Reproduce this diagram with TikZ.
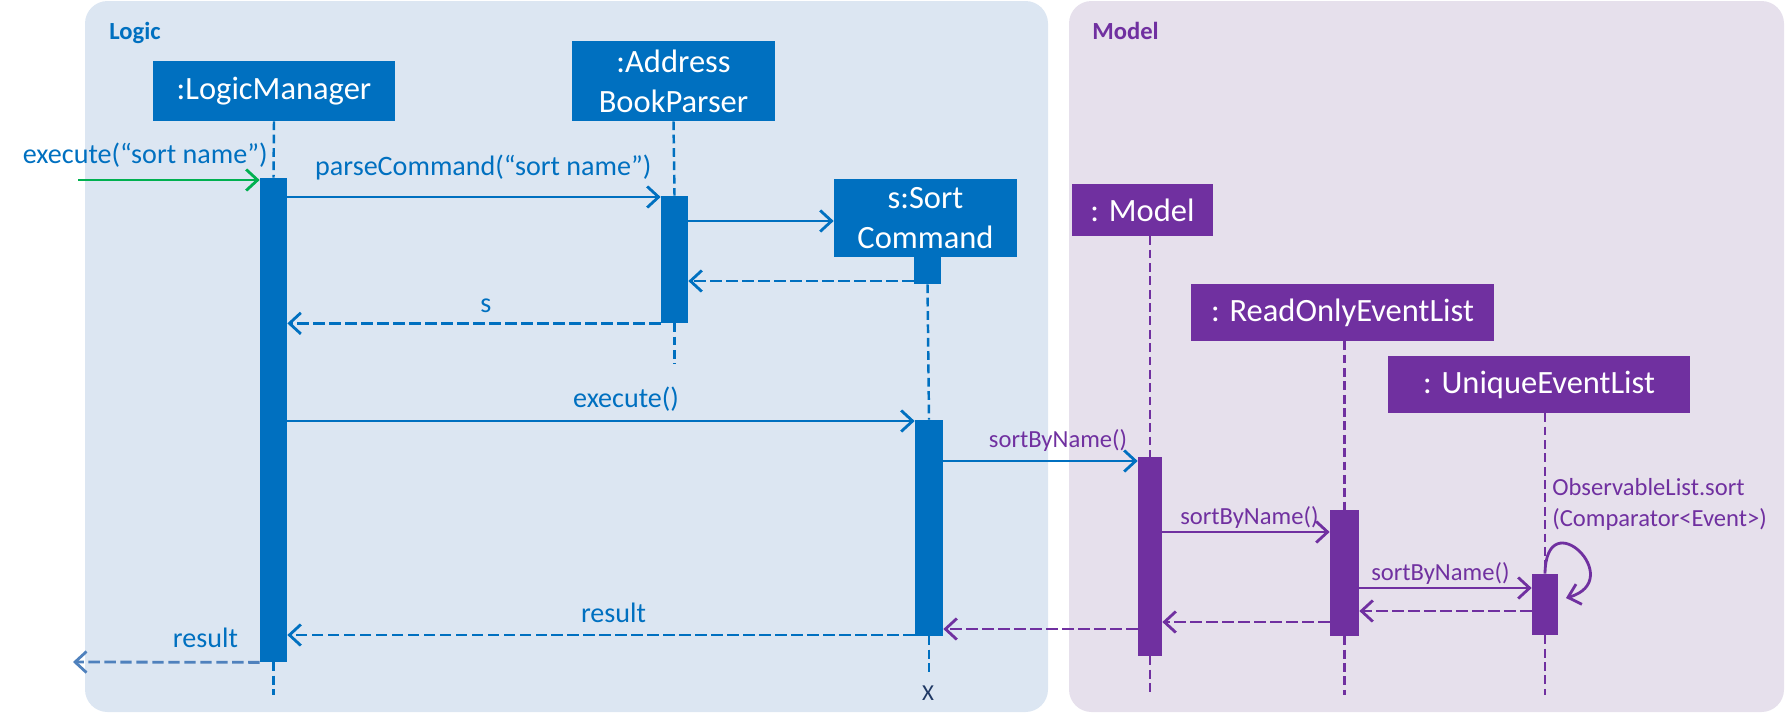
\documentclass[tikz,border=0pt]{standalone}
\usepackage{fontspec}
\setmainfont{Carlito}
\usepackage{tikz}
\usetikzlibrary{arrows.meta,fit}
\definecolor{logicblue}{HTML}{0070C0}
\definecolor{modelpurple}{HTML}{7030A0}
\definecolor{logicbg}{HTML}{DCE6F2}
\definecolor{modelbg}{HTML}{E6E0EC}
\definecolor{callgreen}{HTML}{00B050}
\definecolor{outblue}{HTML}{4F81BD}
\definecolor{endmark}{HTML}{1F3864}
\tikzset{
  title/.style={text=#1, font=\bfseries\fontsize{14}{17}\selectfont, anchor=base west, inner sep=0pt},
  obj/.style={fill=#1, text=white, inner sep=0pt, align=center, font=\fontsize{18.5}{22.7}\selectfont},
  bar/.style={fill=#1, inner sep=0pt},
  life/.style={draw=#1, line width=1.4pt, dash pattern=on 5pt off 2.6pt},
  call/.style={draw=#1, line width=1.6pt, -{Straight Barb[length=6.5pt,width=12pt,line width=1.6pt]}},
  ret/.style={call=#1, dash pattern=on 6.5pt off 2.6pt},
  msg/.style={text=#1, font=\fontsize{16}{19}\selectfont, anchor=base, inner sep=0pt},
  note/.style={text=#1, font=\fontsize{14}{17.6}\selectfont, anchor=base, inner sep=0pt}
}
\begin{document}
\begin{tikzpicture}[x=0.02cm, y=-0.02cm]
\useasboundingbox (0,0) rectangle (1785,721);
\path[fill=logicbg, rounded corners=0.45cm] (85,1) rectangle (1048,712);
\path[fill=modelbg, rounded corners=0.45cm] (1069,1) rectangle (1784,712);
\node[title=logicblue] (logictitle) at (109,39) {Logic};
\node[title=modelpurple] (modeltitle) at (1092,39) {Model};

\node[obj=logicblue, minimum width=4.84cm, minimum height=1.2cm] (lm) at (274,91) {:LogicManager};
\node[obj=logicblue, minimum width=4.06cm, minimum height=1.6cm] (abp) at (673.5,81) {:Address\\BookParser};
\node[obj=logicblue, minimum width=3.66cm, minimum height=1.56cm] (sc) at (925.5,218) {s:Sort\\Command};
\node[obj=modelpurple, minimum width=2.82cm, minimum height=1.04cm] (mdl) at (1142.5,210) {: Model};
\node[obj=modelpurple, minimum width=6.06cm, minimum height=1.14cm] (rol) at (1342.5,312.5) {: ReadOnlyEventList};
\node[obj=modelpurple, minimum width=6.04cm, minimum height=1.14cm] (uel) at (1539,384.5) {: UniqueEventList};

\node[bar=logicblue, fit={(260,178) (287,662)}] (lmbar) {};
\node[bar=logicblue, fit={(661,196) (688,323)}] (abpbar) {};
\node[bar=logicblue, fit={(914,257) (941,284)}] (scblk) {};
\node[bar=logicblue, fit={(915,420) (943,636)}] (scbar) {};
\node[bar=modelpurple, fit={(1138,457) (1162,656)}] (mdlbar) {};
\node[bar=modelpurple, fit={(1330,510) (1359,636)}] (rolbar) {};
\node[bar=modelpurple, fit={(1532,574) (1558,635)}] (uelbar) {};

\coordinate (bottom) at (0,695);
\draw[life=logicblue] (lm.south) -- (lmbar.north);
\draw[life=logicblue] (lmbar.south) -- (lmbar.south |- bottom);
\draw[life=logicblue] (abp.south) -- (abpbar.north);
\draw[life=logicblue] (abpbar.south) -- (abpbar.south |- 0,364);
\draw[life=logicblue] (scblk.south) -- (scbar.north);
\draw[life=logicblue] (scbar.south) -- (scbar.south |- 0,672);
\node[text=endmark, font=\fontsize{13}{15}\selectfont, inner sep=0pt] (endx) at (928,693) {X};
\draw[life=modelpurple] (mdlbar.north |- mdl.south) -- (mdlbar.north);
\draw[life=modelpurple] (mdlbar.south) -- (mdlbar.south |- bottom);
\draw[life=modelpurple] (rolbar.north |- rol.south) -- (rolbar.north);
\draw[life=modelpurple] (rolbar.south) -- (rolbar.south |- bottom);
\draw[life=modelpurple] (uelbar.north |- uel.south) -- (uelbar.north);
\draw[life=modelpurple] (uelbar.south) -- (uelbar.south |- bottom);

\coordinate (entry) at (78,180);
\coordinate (exit) at (73,662);
\draw[call=callgreen] (entry) -- (entry -| lmbar.west) node[msg=logicblue, pos=0.37, yshift=0.34cm] {execute(“sort name”)};
\draw[call=logicblue] (lmbar.east |- 0,197) -- (abpbar.west |- 0,197) node[msg=logicblue, pos=0.525, yshift=0.44cm] {parseCommand(“sort name”)};
\draw[call=logicblue] (abpbar.east |- 0,221) -- (sc.west |- 0,221);
\draw[ret=logicblue] (scblk.west |- 0,281) -- (abpbar.east |- 0,281);
\draw[ret=logicblue] (abpbar.south west) -- (lmbar.east |- abpbar.south) node[msg=logicblue, pos=0.468, yshift=0.22cm] {s};
\draw[call=logicblue] (lmbar.east |- 0,421) -- (scbar.west |- 0,421) node[msg=logicblue, pos=0.54, yshift=0.28cm] {execute()};
\draw[call=logicblue] (scbar.east |- 0,461) -- (mdlbar.west |- 0,461) node[note=modelpurple, pos=0.59, yshift=0.28cm] {sortByName()};
\draw[call=modelpurple] (mdlbar.east |- 0,532) -- (rolbar.west |- 0,532) node[note=modelpurple, pos=0.52, yshift=0.16cm] {sortByName()};
\draw[call=modelpurple] (rolbar.east |- 0,588) -- (uelbar.west |- 0,588) node[note=modelpurple, pos=0.47, yshift=0.16cm] {sortByName()};

\coordinate (loopend) at (1566,598);
\draw[call=modelpurple] (uelbar.north) .. controls (1546,500) and (1628,580) .. (loopend);
\node[note=modelpurple, anchor=north west, align=left] (sortnote) at (1552,478) {ObservableList.sort\\(Comparator<Event>)};

\draw[ret=modelpurple] (uelbar.west |- 0,611) -- (rolbar.east |- 0,611);
\draw[ret=modelpurple] (rolbar.west |- 0,622) -- (mdlbar.east |- 0,622);
\draw[ret=modelpurple] (mdlbar.west |- 0,629) -- (scbar.east |- 0,629);
\draw[ret=logicblue] (scbar.west |- 0,635) -- (lmbar.east |- 0,635) node[msg=logicblue, pos=0.48, yshift=0.26cm] {result};
\draw[ret=outblue] (lmbar.south west) -- (exit) node[msg=logicblue, pos=0.29, yshift=0.3cm] {result};
\end{tikzpicture}
\end{document}
